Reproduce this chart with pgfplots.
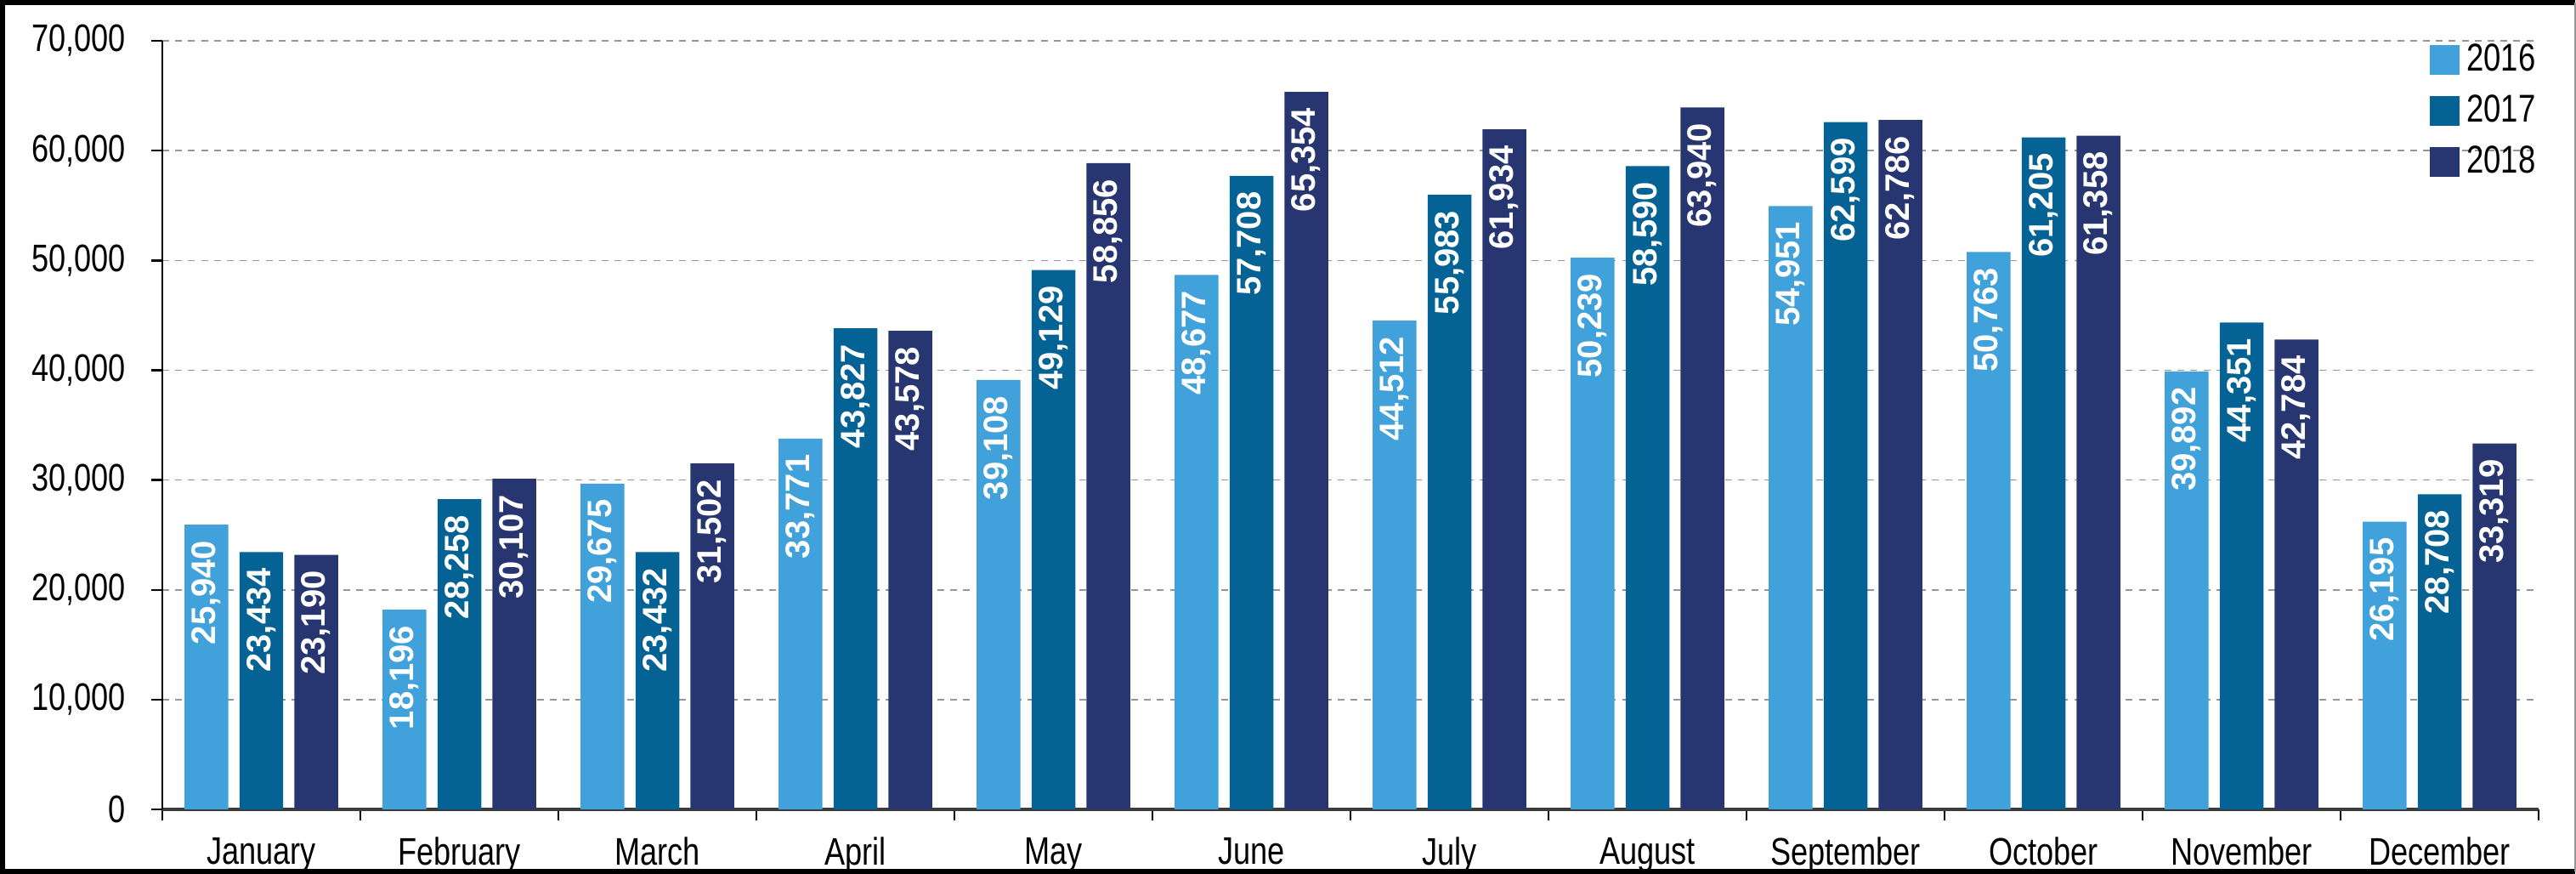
\documentclass[border=0pt]{standalone}
\usepackage{fontspec}
\setmainfont{Liberation Sans}[FakeStretch=0.8]
\newfontfamily\lblfont{Liberation Sans}
\usepackage{pgfplots}
\pgfplotsset{compat=1.18}
\definecolor{c16}{RGB}{65,161,218}
\definecolor{c17}{RGB}{4,99,148}
\definecolor{c18}{RGB}{39,53,112}
\definecolor{gridgray}{RGB}{150,150,150}
\definecolor{axgray}{RGB}{60,60,60}
\begin{document}
\begin{tikzpicture}
\useasboundingbox (-47.75pt,-19pt) rectangle (710pt,238pt);
\begin{axis}[
  at={(0,0)}, anchor=south west,
  scale only axis, width=699pt, height=226pt,
  xmin=-0.5, xmax=11.5, ymin=0, ymax=70000,
  axis lines*=left,
  x axis line style={line width=1pt, color=axgray},
  y axis line style={line width=0.6pt, color=black},
  ybar, bar width=0.221,
  xtick={-0.5,0.5,...,11.5},
  x tick label as interval,
  xticklabels={January,February,March,April,May,June,July,August,September,October,November,December},
  ytick={0,10000,...,70000},
  scaled y ticks=false,
  yticklabel={\pgfmathprintnumber[assume math mode=true,fixed,precision=0,1000 sep={,}]{\tick}},
  tick align=outside, major tick length=3.2pt,
  tick style={black, line width=0.6pt},
  ymajorgrids, grid style={gridgray, line width=0.4pt, dash pattern=on 2pt off 1.8pt},
  ticklabel style={font=\fontsize{11.3}{13}\selectfont, text=black},
  yticklabel style={xshift=-4pt},
  xticklabel style={yshift=-1.5pt},
  nodes near coords={\pgfmathprintnumber[assume math mode=true,fixed,precision=0,1000 sep={,}]{\pgfplotspointmeta}},
  every node near coord/.append style={font=\lblfont\bfseries\fontsize{10}{12}\selectfont, text=white, rotate=90, anchor=east, xshift=-4.5pt, inner sep=0pt},
  legend style={at={(rel axis cs:0.954,1.006)}, anchor=north west, draw=none, fill=none,
    font=\fontsize{11.4}{13}\selectfont, row sep=1.6pt, inner sep=0pt,
    /tikz/every even column/.append style={column sep=3.8pt}},
  legend cell align=left,
  legend image code/.code={\fill[#1] (0pt,-4.375pt) rectangle (8.75pt,4.375pt);},
]
\addplot[fill=c16, draw=none, bar shift=-0.277] coordinates {
(0,25940) (1,18196) (2,29675) (3,33771) (4,39108) (5,48677) (6,44512) (7,50239) (8,54951) (9,50763) (10,39892) (11,26195)};
\addplot[fill=c17, draw=none, bar shift=0] coordinates {
(0,23434) (1,28258) (2,23432) (3,43827) (4,49129) (5,57708) (6,55983) (7,58590) (8,62599) (9,61205) (10,44351) (11,28708)};
\addplot[fill=c18, draw=none, bar shift=0.277] coordinates {
(0,23190) (1,30107) (2,31502) (3,43578) (4,58856) (5,65354) (6,61934) (7,63940) (8,62786) (9,61358) (10,42784) (11,33319)};
\legend{2016,2017,2018}
\end{axis}
\draw[line width=1.5pt, black] (709.8pt,237.25pt) -- (-47pt,237.25pt) -- (-47pt,-18.25pt) -- (709.8pt,-18.25pt);
\draw[line width=0.4pt, gridgray] (709.8pt,237.25pt) -- (709.8pt,-18.25pt);
\end{tikzpicture}
\end{document}
